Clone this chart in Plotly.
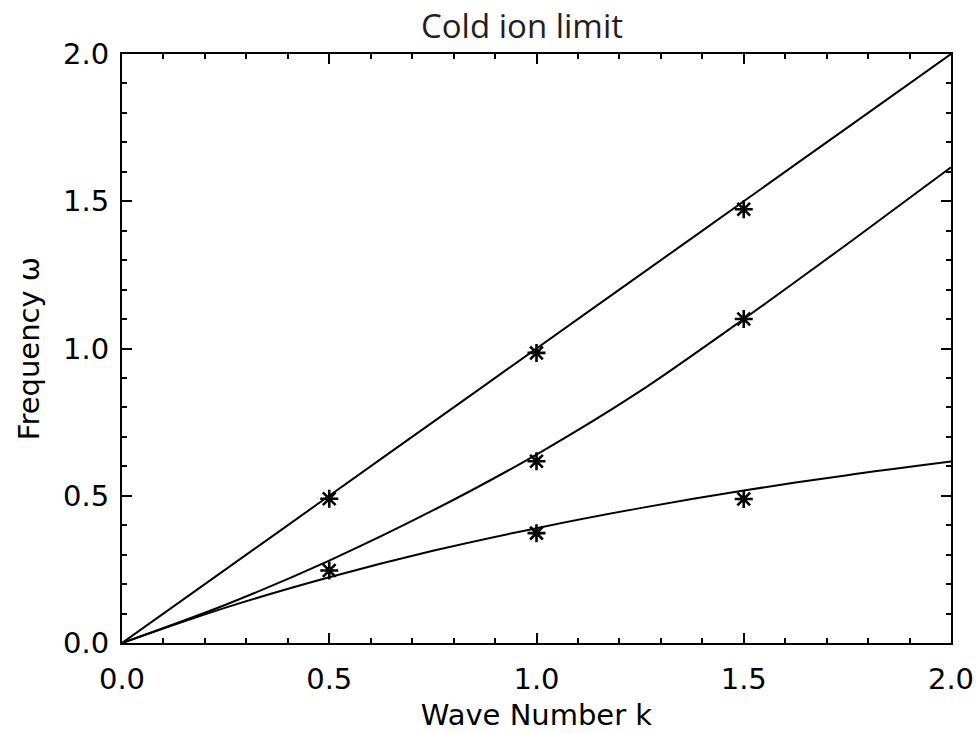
import plotly.graph_objects as go

# Wave number grid for the curves
k_curve = [0.0, 0.25, 0.5, 0.75, 1.0, 1.25, 1.5, 1.75, 2.0]
# Curves
omega_upper = [0.0, 0.25, 0.5, 0.75, 1.0, 1.25, 1.5, 1.75, 2.0]
omega_middle = [0.0, 0.13, 0.28, 0.45, 0.64, 0.855, 1.10, 1.355, 1.615]
omega_lower = [0.0, 0.12, 0.223, 0.313, 0.39, 0.458, 0.518, 0.57, 0.616]

# Asterisk markers (numerical results)
k_pts_upper = [0.5, 1.0, 1.5]
w_pts_upper = [0.49, 0.985, 1.473]
k_pts_middle = [1.0, 1.5]
w_pts_middle = [0.617, 1.10]
k_pts_lower = [0.5, 1.0, 1.5]
w_pts_lower = [0.246, 0.373, 0.489]

x_ticks = [0.0, 0.5, 1.0, 1.5, 2.0]
y_ticks = [0.0, 0.5, 1.0, 1.5, 2.0]
tick_text = ["0.0", "0.5", "1.0", "1.5", "2.0"]

fig = go.Figure()
for ys in (omega_upper, omega_middle, omega_lower):
    fig.add_trace(go.Scatter(x=k_curve, y=ys, mode="lines",
                             line=dict(color="black", width=2, shape="spline",
                                       smoothing=0.8),
                             showlegend=False))
for kx, wy in ((k_pts_upper, w_pts_upper), (k_pts_middle, w_pts_middle),
               (k_pts_lower, w_pts_lower)):
    fig.add_trace(go.Scatter(x=kx, y=wy, mode="markers",
                             marker=dict(symbol="asterisk-open", size=15,
                                         color="black",
                                         line=dict(color="black", width=2.6)),
                             showlegend=False))

axis_common = dict(
    showgrid=False, zeroline=False, showline=True, linecolor="black",
    linewidth=2, mirror="ticks", ticks="inside", ticklen=10, tickwidth=2,
    tickcolor="black",
    minor=dict(ticks="inside", ticklen=5, tickwidth=2, tickcolor="black",
               dtick=0.1),
    tickfont=dict(family="DejaVu Sans", size=29, color="black"),
    automargin=False,
)

W, H = 979, 734

fig.update_layout(
    width=W, height=H,
    paper_bgcolor="white", plot_bgcolor="white",
    margin=dict(l=122, r=28, t=54, b=91),
    title=dict(text="Cold ion limit", x=522 / W, xanchor="center",
               y=1 - 26 / H, yanchor="middle",
               font=dict(family="Open Sans", size=33, color="#231f20")),
    xaxis=dict(range=[0, 2], tickvals=x_ticks, ticktext=tick_text,
               ticklabelstandoff=9,
               title=dict(text="Wave Number k", standoff=10,
                          font=dict(family="DejaVu Sans", size=29,
                                    color="black")),
               **axis_common),
    yaxis=dict(range=[0, 2], tickvals=y_ticks, ticktext=tick_text,
               ticklabelstandoff=5,
               title=dict(text="Frequency ω", standoff=15,
                          font=dict(family="DejaVu Sans", size=29,
                                    color="black")),
               **axis_common),
)

fig.write_html(
    "out.html",
    config={"displayModeBar": False},
    post_script="document.body.style.margin='0';"
                "document.body.style.overflow='hidden';",
)
